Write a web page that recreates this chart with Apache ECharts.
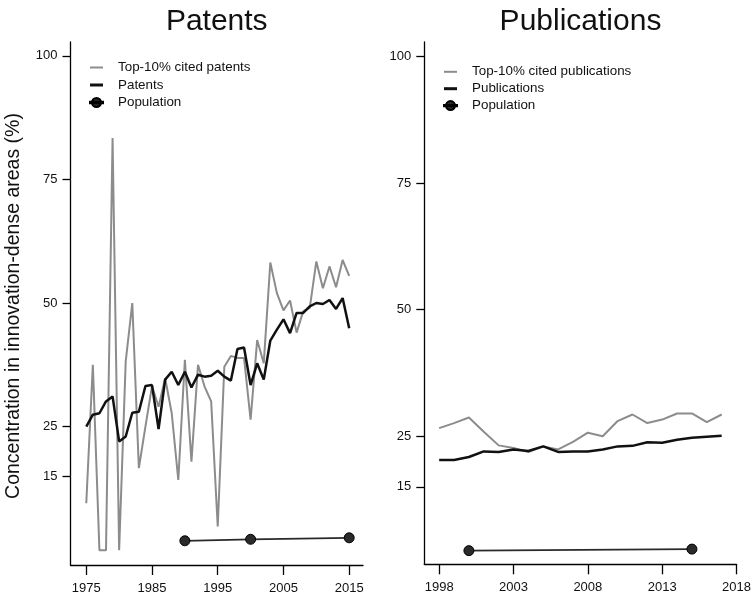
<!DOCTYPE html>
<html>
<head>
<meta charset="utf-8">
<script src="https://cdn.jsdelivr.net/npm/echarts@6/dist/echarts.min.js"></script>
<style>html,body{margin:0;padding:0;background:#fff;}#c{width:754px;height:600px;}</style>
</head>
<body>
<div id="c"></div>
<script>
// ---- data ----
const patentYears = [1975,1976,1977,1978,1979,1980,1981,1982,1983,1984,1985,1986,1987,1988,1989,1990,1991,1992,1993,1994,1995,1996,1997,1998,1999,2000,2001,2002,2003,2004,2005,2006,2007,2008,2009,2010,2011,2012,2013,2014,2015];
const patents = [25,27.4,27.7,30.1,31.1,22,23,27.8,28,33.2,33.4,24.5,34.5,36.1,33.4,36.1,32.9,35.5,35.1,35.3,36.3,35.1,34.3,40.7,41,33.4,37.8,34.5,42.4,44.6,46.7,43.9,48,48,49.3,50,49.8,50.6,48.8,51,44.9];
const topPatents = [9.5,37.5,0,0,83.4,0,38.2,50,16.6,25,33.2,29,34.8,27.7,14.2,38.5,17.9,37.5,33.1,30.1,4.8,37.1,39.3,38.9,38.9,26.4,42.5,37.8,58.2,52,48.5,50.5,44,48.3,49,58.4,53,57.4,53.2,58.7,55.5];
const popPatYears = [1990,2000,2015];
const popPat = [1.9,2.2,2.5];

const pubYears = [1998,1999,2000,2001,2002,2003,2004,2005,2006,2007,2008,2009,2010,2011,2012,2013,2014,2015,2016,2017];
const publications = [20.3,20.3,20.9,22,21.9,22.4,22.1,23,21.9,22,22,22.4,23,23.1,23.8,23.7,24.3,24.7,24.9,25.1];
const topPublications = [26.6,27.6,28.7,25.9,23.2,22.7,21.9,23,22.4,23.9,25.7,25,28,29.3,27.6,28.3,29.5,29.5,27.8,29.3];
const popPubYears = [2000,2015];
const popPub = [2.4,2.7];

const yTicks = [15,25,50,75,100];
const xTicksPat = [1975,1985,1995,2005,2015];
const xTicksPub = [1998,2003,2008,2013,2018];

const titles = ['Patents','Publications'];
const yName = 'Concentration in innovation-dense areas (%)';

// ---- chart ----
const FONT = 'Liberation Sans, Arial, Helvetica, sans-serif';
const GRAY = '#8c8c8c', BLACK = '#111', POP = '#2a2a2a';
const zip = (xs, ys) => xs.map((x, i) => [x, ys[i]]);

const axisLine = {show:true, onZero:false, lineStyle:{color:'#000', width:1.3}};
function xAx(grid, min, max, ticks){
  return {gridIndex:grid, type:'value', min:min, max:max,
    axisLine:axisLine,
    axisTick:{show:true, length:10, customValues:ticks, lineStyle:{color:'#000', width:1.3}},
    axisLabel:{customValues:ticks, margin:17, fontSize:13, color:'#111', fontFamily:FONT, formatter:v => String(v)},
    splitLine:{show:false}};
}
function yAx(grid, min, max){
  return {gridIndex:grid, type:'value', min:min, max:max,
    axisLine:axisLine,
    axisTick:{show:true, length:8, customValues:yTicks, lineStyle:{color:'#000', width:1.3}},
    axisLabel:{customValues:yTicks, margin:13, fontSize:13, color:'#111', fontFamily:FONT, formatter:v => String(v)},
    splitLine:{show:false}};
}
function lineS(name, xi, data, color, width){
  return {name:name, type:'line', xAxisIndex:xi, yAxisIndex:xi, data:data,
    symbol:'none', lineStyle:{color:color, width:width}, itemStyle:{color:color}, z:width>2.2?3:2};
}
function popS(xi, data){
  return {name:'Population', type:'line', xAxisIndex:xi, yAxisIndex:xi, data:data,
    symbol:'circle', symbolSize:10, showSymbol:true,
    lineStyle:{color:POP, width:1.8}, itemStyle:{color:POP, borderColor:'#000', borderWidth:1}, z:4};
}

const legendText = {fontSize:13.4, color:'#111', fontFamily:FONT, padding:[0,0,0,10]};
const grayIcon = 'path://M0,0H13V2H0Z';
const blackIcon = 'path://M0,0H13V3H0Z';
const popIcon = 'path://M0,4.3H13V5.7H0Z M6.5,0.5A4.5,4.5 0 1,1 6.49,0.5Z';

const option = {
  animation:false,
  backgroundColor:'#fff',
  textStyle:{fontFamily:FONT},
  grid:[
    {left:70.5, top:42, width:292.5, height:523},
    {left:424.3, top:42, width:312.4, height:522.3}
  ],
  xAxis:[ xAx(0, 1972.6, 2017.1, xTicksPat), xAx(1, 1997, 2018, xTicksPub) ],
  yAxis:[ yAx(0, -3, 102.8), yAx(1, -0.3, 102.9) ],
  legend:[
    {data:[{name:'Top-10% cited patents', icon:grayIcon},{name:'Patents', icon:blackIcon},{name:'Population', icon:popIcon}],
     orient:'vertical', padding:0, left:89, top:61, itemWidth:13, itemHeight:12, itemGap:4.5, textStyle:legendText},
    {data:[{name:'Top-10% cited publications', icon:grayIcon},{name:'Publications', icon:blackIcon},{name:'Population', icon:popIcon}],
     orient:'vertical', padding:0, left:443, top:65.3, itemWidth:13, itemHeight:12, itemGap:3.9, textStyle:legendText}
  ],
  graphic:[
    {type:'text', x:216.75, y:21.5, style:{text:titles[0], font:'30px '+FONT, fill:'#111', textAlign:'center', textVerticalAlign:'middle'}},
    {type:'text', x:580.5, y:21.5, style:{text:titles[1], font:'30px '+FONT, fill:'#111', textAlign:'center', textVerticalAlign:'middle'}},
    {type:'text', x:14, y:306, rotation:Math.PI/2, style:{text:yName, font:'19.5px '+FONT, fill:'#111', textAlign:'center', textVerticalAlign:'middle'}}
  ],
  series:[
    lineS('Top-10% cited patents', 0, zip(patentYears, topPatents), GRAY, 2),
    lineS('Patents', 0, zip(patentYears, patents), BLACK, 2.5),
    popS(0, zip(popPatYears, popPat)),
    lineS('Top-10% cited publications', 1, zip(pubYears, topPublications), GRAY, 2),
    lineS('Publications', 1, zip(pubYears, publications), BLACK, 2.5),
    popS(1, zip(popPubYears, popPub))
  ]
};
const chart = echarts.init(document.getElementById('c'), null, {renderer:'canvas'});
chart.setOption(option);
</script>
</body>
</html>
